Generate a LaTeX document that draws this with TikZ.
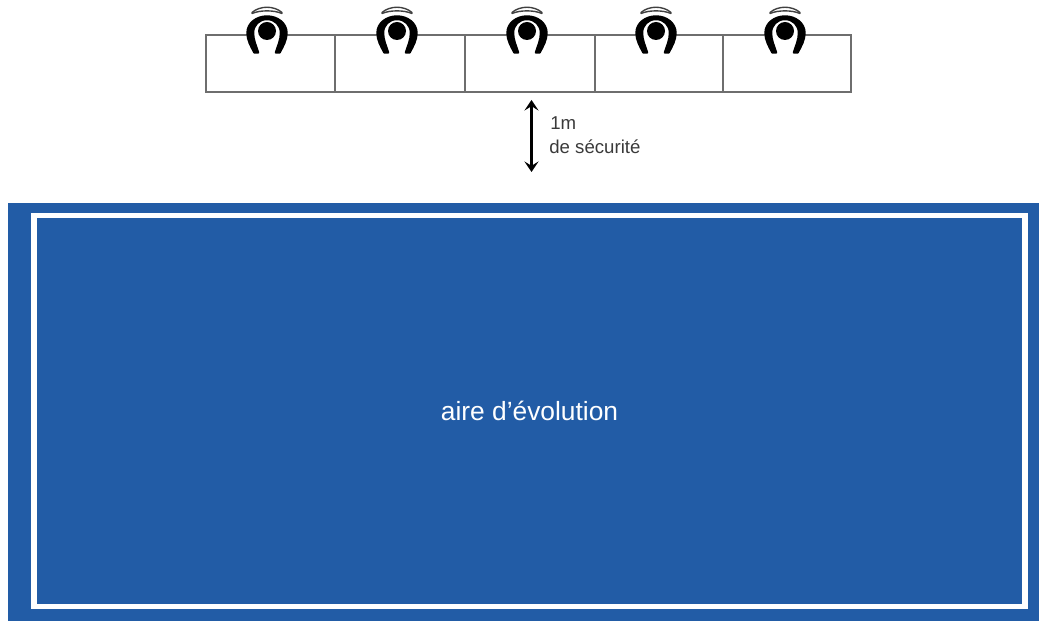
\documentclass[tikz,border=0pt]{standalone}
\usepackage{fontspec}
\setmainfont{Liberation Sans}
\usepackage{tikz}
\usetikzlibrary{positioning,arrows.meta}
\definecolor{areablue}{HTML}{225CA6}
\definecolor{deskgray}{HTML}{6E6E6E}
\definecolor{notegray}{HTML}{3A3A3A}
\tikzset{
  desk/.style = {draw=deskgray, line width=0.6pt, shape=rectangle, inner sep=0pt, minimum height=1.14cm},
  note/.style = {text=notegray, font=\fontsize{10.6}{12}\selectfont, inner sep=0pt, anchor=west},
  halo/.style = {black!75, line width=0.8pt, line cap=round}
}
\begin{document}
\begin{tikzpicture}[x=0.02cm, y=-0.02cm]
    \useasboundingbox (0,0) rectangle (1039,621);
    % play area
    \node[shape=rectangle, fill=areablue, inner sep=0pt, minimum width=20.62cm, minimum height=8.36cm] (area) at (523.5,412) {};
    \node[shape=rectangle, draw=white, line width=3.2pt, inner sep=0pt, minimum width=19.82cm, minimum height=7.82cm,
      text=white, font=\fontsize{15}{18}\selectfont] (frame) at (529.5,411) {aire d'évolution};
    % row of desks
    \foreach \i/\x/\w in {1/270.5/2.58, 2/400/2.6, 3/530/2.6, 4/659/2.56, 5/787/2.56} {
      \node[desk, minimum width=\w cm] (desk\i) at (\x,63.5) {};
    }
    % seated people
    \foreach \i/\x in {1/267, 2/397, 3/527, 4/656, 5/785} {
      \begin{scope}[shift={(\x,0)}]
        \fill[white] (-16,18) rectangle (16,37);
        \fill[black, draw=black, line width=1.4pt, line join=round] (-12.5,52.5)
          .. controls (-16,46) and (-19.5,40) .. (-19.5,33)
          .. controls (-19.5,23) and (-10,16.5) .. (0,16.5)
          .. controls (10,16.5) and (19.5,23) .. (19.5,33)
          .. controls (19.5,40) and (16,46) .. (12.5,52.5) -- (9,52.5)
          .. controls (11,46) and (14,40) .. (14,33)
          .. controls (14,25) and (8,19) .. (0,19)
          .. controls (-8,19) and (-14,25) .. (-14,33)
          .. controls (-14,40) and (-11,46) .. (-9,52.5) -- cycle;
        \fill[black] (0,31) circle (9);
        \draw[halo] (-15,13.5) .. controls (-7,10) and (7,10) .. (15,13.5);
        \draw[halo] (-15,12.5) .. controls (-7,5.5) and (7,5.5) .. (15,12.5);
      \end{scope}
    }
    % safety distance
    \coordinate (gaptop) at (531.5,100);
    \coordinate (gapbot) at (531.5,172);
    \draw[{Stealth[length=6pt,width=8pt,inset=2.5pt]}-{Stealth[length=6pt,width=8pt,inset=2.5pt]}, line width=1.4pt, black] (gaptop) -- (gapbot);
    \node[note] (gapa) at (550,123) {1m};
    \node[note] (gapb) at (549,147) {de sécurité};
\end{tikzpicture}
\end{document}
